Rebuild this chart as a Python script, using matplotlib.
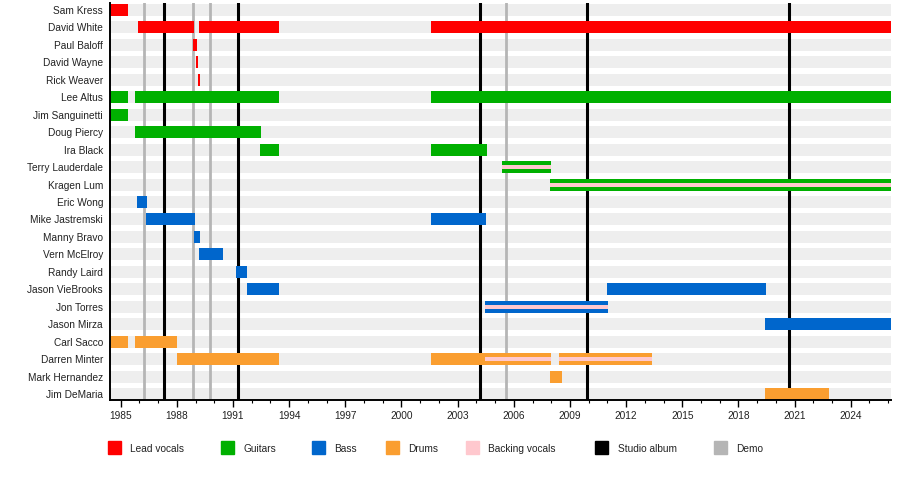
import matplotlib
matplotlib.use("Agg")
import matplotlib.pyplot as plt
import matplotlib.ticker as mticker
from matplotlib.patches import Rectangle

plt.rcParams['font.family'] = ['Liberation Sans', 'DejaVu Sans']

# dati

START = 1984.43
END = 2026.15

members = ["Sam Kress", "David White", "Paul Baloff", "David Wayne", "Rick Weaver",
           "Lee Altus", "Jim Sanguinetti", "Doug Piercy", "Ira Black",
           "Terry Lauderdale", "Kragen Lum", "Eric Wong", "Mike Jastremski",
           "Manny Bravo", "Vern McElroy", "Randy Laird", "Jason VieBrooks",
           "Jon Torres", "Jason Mirza", "Carl Sacco", "Darren Minter",
           "Mark Hernandez", "Jim DeMaria"]

lead_vocals = [
    ("Sam Kress", 1984.43, 1985.39),
    ("David White", 1985.92, 1988.92),
    ("David White", 1989.18, 1993.45),
    ("David White", 2001.58, END),
    ("Paul Baloff", 1988.87, 1989.08),
    ("David Wayne", 1989.02, 1989.12),
    ("Rick Weaver", 1989.13, 1989.23),
]

guitars = [
    ("Lee Altus", 1984.43, 1985.39),
    ("Lee Altus", 1985.76, 1993.45),
    ("Lee Altus", 2001.58, END),
    ("Jim Sanguinetti", 1984.43, 1985.39),
    ("Doug Piercy", 1985.76, 1992.49),
    ("Ira Black", 1992.44, 1993.45),
    ("Ira Black", 2001.58, 2004.55),
    ("Terry Lauderdale", 2005.37, 2007.99),
    ("Kragen Lum", 2007.93, END),
]

bass = [
    ("Eric Wong", 1985.87, 1986.40),
    ("Mike Jastremski", 1986.35, 1988.97),
    ("Mike Jastremski", 2001.58, 2004.52),
    ("Manny Bravo", 1988.92, 1989.24),
    ("Vern McElroy", 1989.18, 1990.46),
    ("Randy Laird", 1991.16, 1991.75),
    ("Jason VieBrooks", 1991.75, 1993.45),
    ("Jason VieBrooks", 2010.98, 2019.47),
    ("Jon Torres", 2004.47, 2011.04),
    ("Jason Mirza", 2019.42, END),
]

drums = [
    ("Carl Sacco", 1984.43, 1985.39),
    ("Carl Sacco", 1985.76, 1988.03),
    ("Darren Minter", 1988.00, 1993.45),
    ("Darren Minter", 2001.58, 2007.99),
    ("Darren Minter", 2008.41, 2013.38),
    ("Mark Hernandez", 2007.93, 2008.56),
    ("Jim DeMaria", 2019.42, 2022.83),
]

backing_vocals = [
    ("Terry Lauderdale", 2005.37, 2007.99),
    ("Kragen Lum", 2007.93, END),
    ("Jon Torres", 2004.47, 2011.04),
    ("Darren Minter", 2004.47, 2007.99),
    ("Darren Minter", 2008.41, 2013.38),
]

studio_albums = [1987.31, 1991.27, 2004.19, 2009.90, 2020.70]
demos = [1986.24, 1988.86, 1989.77, 2005.60]

COLORS = {
    'Lead vocals': '#FF0000',
    'Guitars': '#00B000',
    'Bass': '#0066CC',
    'Drums': '#FA9E30',
    'Backing vocals': '#FFC8CE',
    'Studio album': '#000000',
    'Demo': '#B5B5B5',
}

BAR_H = 0.69

# grafico

fig = plt.figure(figsize=(9, 4.79), dpi=100)
ax = fig.add_axes([110 / 900, 79 / 479, 781 / 900, 397 / 479])

row = {m: i for i, m in enumerate(members)}

# righe di sfondo
ax.barh(range(len(members)), END - START, left=START, height=BAR_H,
        color='#EEEEEE', zorder=1)

for yr in demos:
    ax.axvline(yr, color=COLORS['Demo'], lw=2.0, zorder=2)
for yr in studio_albums:
    ax.axvline(yr, color=COLORS['Studio album'], lw=2.2, zorder=2)

for data, label in [(lead_vocals, 'Lead vocals'), (guitars, 'Guitars'),
                    (bass, 'Bass'), (drums, 'Drums')]:
    ys = [row[m] for m, s, e in data]
    ax.barh(ys, [e - s for m, s, e in data], left=[s for m, s, e in data],
            height=BAR_H, color=COLORS[label], zorder=3)

ys = [row[m] for m, s, e in backing_vocals]
ax.barh(ys, [e - s for m, s, e in backing_vocals],
        left=[s for m, s, e in backing_vocals],
        height=BAR_H / 3, color=COLORS['Backing vocals'], zorder=4)

ax.set_xlim(START, END)
ax.set_ylim(22 + 6 / 17.48, -7 / 17.48)

ax.set_yticks(range(len(members)))
ax.set_yticklabels(members, fontsize=7.3, color='#222222')
ax.tick_params(axis='y', length=0, pad=5)

ax.xaxis.set_major_locator(mticker.FixedLocator(range(1985, 2026, 3)))
ax.xaxis.set_minor_locator(mticker.FixedLocator(range(1985, 2027)))
ax.tick_params(axis='x', which='major', length=5, width=1, labelsize=7.3,
               labelcolor='#222222', pad=3)
ax.tick_params(axis='x', which='minor', length=2.5, width=0.8)

for side in ['top', 'right']:
    ax.spines[side].set_visible(False)
for side in ['left', 'bottom']:
    ax.spines[side].set_linewidth(1.4)
    ax.spines[side].set_zorder(5)

# legenda
legend_pos = [('Lead vocals', 108), ('Guitars', 221), ('Bass', 312),
              ('Drums', 386), ('Backing vocals', 466), ('Studio album', 595),
              ('Demo', 714)]
for label, px in legend_pos:
    fig.patches.append(Rectangle((px / 900, (479 - 454) / 479), 13 / 900, 13 / 479,
                                 transform=fig.transFigure, color=COLORS[label]))
    fig.text((px + 22.5) / 900, (479 - 449) / 479, label, fontsize=7.3,
             color='#222222', va='center', ha='left')

fig.savefig('out.png', dpi=100)
